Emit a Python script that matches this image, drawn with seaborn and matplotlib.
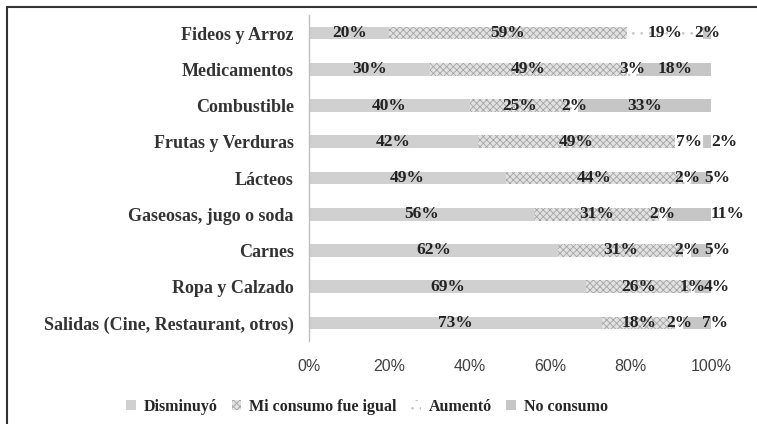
import pandas as pd
import matplotlib.pyplot as plt
import seaborn as sns
from matplotlib.patches import Patch
from matplotlib.lines import Line2D

# data (percent of respondents)
categories = ["Fideos y Arroz", "Medicamentos", "Combustible", "Frutas y Verduras",
              "Lácteos", "Gaseosas, jugo o soda", "Carnes", "Ropa y Calzado",
              "Salidas (Cine, Restaurant, otros)"]
disminuyo = [20, 30, 40, 42, 49, 56, 62, 69, 73]
igual = [59, 49, 25, 49, 44, 31, 31, 26, 18]
aumento = [19, 3, 2, 7, 2, 2, 2, 1, 2]
no_consumo = [2, 18, 33, 2, 5, 11, 5, 4, 7]
series_names = ["Disminuyó", "Mi consumo fue igual", "Aumentó", "No consumo"]
xticks = [0, 0.2, 0.4, 0.6, 0.8, 1.0]
xtick_labels = ["0%", "20%", "40%", "60%", "80%", "100%"]

# the "No consumo" labels of the small segments sit a bit to the right in the reference
label_nudge = [0, 0, 0, 0.042, 0.04, 0.095, 0.04, 0.034, 0.045]

sns.set_style("white")
plt.rcParams["hatch.linewidth"] = 0.6

df = pd.DataFrame({"cat": categories,
                   "s1": disminuyo, "s2": igual, "s3": aumento, "s4": no_consumo})
df["c1"] = df["s1"] / 100
df["c2"] = (df["s1"] + df["s2"]) / 100
df["c3"] = (df["s1"] + df["s2"] + df["s3"]) / 100
df["c4"] = (df["s1"] + df["s2"] + df["s3"] + df["s4"]) / 100

# style of each series: (face, hatch, hatch colour)
styles = [("#d0d0d0", "", "#d0d0d0"),
          ("#e2e2e2", "xxxxx", "#a4a4a4"),
          ("#ffffff", "..", "#c4c4c4"),
          ("#c6c6c6", "", "#c6c6c6")]

fig = plt.figure(figsize=(7.57, 4.24), dpi=100)
ax = fig.add_axes([309 / 757, 1 - 341 / 424, (711 - 309) / 757, (341 - 15) / 424])

# draw cumulative layers from the widest to the narrowest
for col, (face, hatch, hcol) in reversed(list(zip(["c1", "c2", "c3", "c4"], styles))):
    sns.barplot(data=df, x=col, y="cat", orient="h", ax=ax, width=0.35,
                color=face, saturation=1, errorbar=None,
                hatch=hatch, edgecolor=hcol, linewidth=0)

# value labels centred in each segment
for i in range(len(categories)):
    start = 0
    for s in ["s1", "s2", "s3", "s4"]:
        v = df[s][i]
        x = (start + v / 2) / 100
        if s == "s4":
            x += label_nudge[i]
        ax.text(x, i, f"{v}%", ha="center", va="center", clip_on=False,
                fontsize=12.5, fontweight="bold", family="Liberation Serif",
                color="#222222")
        start += v

ax.set_xlim(0, 1)
ax.set_ylim(len(categories) - 0.5, -0.5)
ax.set_xticks(xticks)
ax.set_xticklabels(xtick_labels, fontsize=11.5, family="Liberation Sans", color="#404040")
ax.set_xlabel("")
ax.set_ylabel("")
for lab in ax.get_yticklabels():
    lab.set_family("Liberation Serif")
    lab.set_fontweight("bold")
    lab.set_fontsize(13)
    lab.set_color("#333333")
ax.tick_params(axis="x", length=0, pad=13)
ax.tick_params(axis="y", length=0, pad=11)
for sp in ["top", "right", "bottom"]:
    ax.spines[sp].set_visible(False)
ax.spines["left"].set_color("#bfbfbf")
ax.spines["left"].set_linewidth(1)

handles = [Patch(facecolor=f, hatch=h, edgecolor=hc, linewidth=0) for f, h, hc in styles]
fig.legend(handles, series_names, loc="center", bbox_to_anchor=(367 / 757, 1 - 407 / 424),
           ncol=4, frameon=False, handlelength=0.6, handleheight=0.6, handletextpad=0.5,
           columnspacing=0.9, prop={"family": "Liberation Serif", "weight": "bold", "size": 11.5})

# outer frame (only top and left edges are visible in the reference)
fig.add_artist(Line2D([7 / 757, 1], [1 - 7 / 424, 1 - 7 / 424], color="#333333", lw=1.5))
fig.add_artist(Line2D([7 / 757, 7 / 757], [0, 1 - 7 / 424], color="#333333", lw=1.5))

fig.savefig("out.png", dpi=100)
